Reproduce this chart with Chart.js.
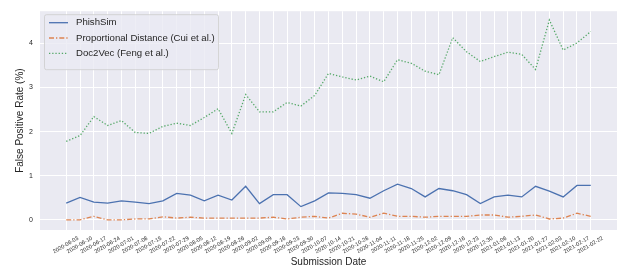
<!DOCTYPE html>
<html>
<head>
    <title>False Positive Rate</title>
    <script src="https://cdn.jsdelivr.net/npm/chart.js"></script>
    <style>
        body { margin: 0; background: #fff; }
    </style>
</head>
<body>
    <canvas id="fprChart" width="623" height="269"></canvas>

    <script>
        const dates = [
            '2020-06-03', '2020-06-10', '2020-06-17', '2020-06-24', '2020-07-01', '2020-07-08',
            '2020-07-15', '2020-07-22', '2020-07-29', '2020-08-05', '2020-08-12', '2020-08-19',
            '2020-08-26', '2020-09-02', '2020-09-09', '2020-09-16', '2020-09-23', '2020-09-30',
            '2020-10-07', '2020-10-14', '2020-10-21', '2020-10-28', '2020-11-04', '2020-11-11',
            '2020-11-18', '2020-11-25', '2020-12-02', '2020-12-09', '2020-12-16', '2020-12-23',
            '2020-12-30', '2021-01-06', '2021-01-13', '2021-01-20', '2021-01-27', '2021-02-03',
            '2021-02-10', '2021-02-17', '2021-02-22'
        ];

        const phishSim = [
            0.38, 0.51, 0.40, 0.38, 0.43, 0.40, 0.37, 0.43, 0.60, 0.56, 0.43, 0.56,
            0.45, 0.76, 0.37, 0.57, 0.57, 0.30, 0.43, 0.61, 0.60, 0.57, 0.49, 0.66,
            0.81, 0.71, 0.52, 0.71, 0.66, 0.57, 0.37, 0.52, 0.56, 0.52, 0.76, 0.65,
            0.52, 0.78, 0.78
        ];

        const propDistance = [
            0.00, 0.00, 0.08, 0.00, 0.00, 0.02, 0.02, 0.07, 0.04, 0.06, 0.04, 0.04,
            0.04, 0.04, 0.04, 0.06, 0.02, 0.06, 0.08, 0.04, 0.15, 0.13, 0.06, 0.15,
            0.08, 0.08, 0.06, 0.08, 0.08, 0.08, 0.11, 0.11, 0.06, 0.08, 0.11, 0.02,
            0.04, 0.15, 0.08
        ];

        const doc2vec = [
            1.78, 1.91, 2.34, 2.14, 2.25, 1.98, 1.96, 2.12, 2.19, 2.14, 2.32, 2.52,
            1.96, 2.84, 2.45, 2.45, 2.66, 2.58, 2.82, 3.32, 3.24, 3.17, 3.26, 3.13,
            3.63, 3.55, 3.37, 3.29, 4.13, 3.81, 3.59, 3.70, 3.80, 3.75, 3.41, 4.53,
            3.85, 4.01, 4.27
        ];

        const yTicks = [0, 1, 2, 3, 4];

        const toPoints = arr => arr.map((v, i) => ({ x: i, y: v }));

        // grey plot area like seaborn darkgrid
        const plotBackground = {
            id: 'plotBackground',
            beforeDraw(chart) {
                const { ctx, chartArea: a } = chart;
                ctx.save();
                ctx.fillStyle = '#EAEAF2';
                ctx.fillRect(a.left, a.top, a.right - a.left, a.bottom - a.top);
                ctx.restore();
            }
        };

        // legend drawn inside the plot, upper left
        const insideLegend = {
            id: 'insideLegend',
            afterDraw(chart) {
                const { ctx, chartArea: a } = chart;
                const x = a.left + 4, y = a.top + 3, w = 174, h = 55;
                ctx.save();
                ctx.fillStyle = 'rgba(234,234,242,0.8)';
                ctx.strokeStyle = '#CCCCCC';
                ctx.lineWidth = 0.8;
                ctx.beginPath();
                ctx.roundRect(x + 0.5, y + 0.5, w, h, 2);
                ctx.fill();
                ctx.stroke();
                ctx.font = '9.6px "Liberation Sans", Arial, sans-serif';
                ctx.textBaseline = 'middle';
                chart.data.datasets.forEach((ds, i) => {
                    const ly = y + 8.5 + i * 15.3;
                    ctx.strokeStyle = ds.borderColor;
                    ctx.lineWidth = ds.borderWidth;
                    ctx.setLineDash(ds.borderDash || []);
                    ctx.beginPath();
                    ctx.moveTo(x + 5, ly);
                    ctx.lineTo(x + 24, ly);
                    ctx.stroke();
                    ctx.setLineDash([]);
                    ctx.fillStyle = '#262626';
                    ctx.fillText(ds.label, x + 32, ly);
                });
                ctx.restore();
            }
        };

        document.addEventListener("DOMContentLoaded", function() {
            new Chart(document.getElementById('fprChart'), {
                type: 'line',
                data: {
                    datasets: [{
                        label: 'PhishSim',
                        data: toPoints(phishSim),
                        borderColor: '#4C72B0',
                        borderWidth: 1.3,
                        pointRadius: 0,
                        fill: false
                    }, {
                        label: 'Proportional Distance (Cui et al.)',
                        data: toPoints(propDistance),
                        borderColor: '#DD8452',
                        borderWidth: 1.3,
                        borderDash: [5, 2, 1.3, 2],
                        pointRadius: 0,
                        fill: false
                    }, {
                        label: 'Doc2Vec (Feng et al.)',
                        data: toPoints(doc2vec),
                        borderColor: '#55A868',
                        borderWidth: 1.3,
                        borderDash: [1.3, 1.9],
                        pointRadius: 0,
                        fill: false
                    }]
                },
                options: {
                    responsive: false,
                    devicePixelRatio: 1,
                    animation: false,
                    layout: { padding: { top: 5, right: 6, left: 0, bottom: 0 } },
                    plugins: {
                        legend: { display: false },
                        tooltip: { enabled: false }
                    },
                    scales: {
                        x: {
                            type: 'linear',
                            min: -1.9,
                            max: dates.length - 1 + 1.9,
                            border: { display: false },
                            grid: { color: '#FFFFFF', lineWidth: 1, drawTicks: false },
                            afterBuildTicks: scale => {
                                scale.ticks = dates.map((d, i) => ({ value: i }));
                            },
                            afterFit: scale => { scale.height = 39; },
                            ticks: {
                                autoSkip: false,
                                minRotation: 30,
                                maxRotation: 30,
                                padding: 5,
                                labelOffset: 12,
                                color: '#262626',
                                font: { family: '"Liberation Sans", Arial, sans-serif', size: 5.6 },
                                callback: v => dates[v]
                            },
                            title: {
                                display: true,
                                text: 'Submission Date',
                                color: '#262626',
                                padding: { top: 0, bottom: 1 },
                                font: { family: '"Liberation Sans", Arial, sans-serif', size: 10 }
                            }
                        },
                        y: {
                            min: -0.23,
                            max: 4.73,
                            border: { display: false },
                            grid: { color: '#FFFFFF', lineWidth: 1, drawTicks: false },
                            afterBuildTicks: scale => {
                                scale.ticks = yTicks.map(v => ({ value: v }));
                            },
                            afterFit: scale => { scale.width = 40; },
                            ticks: {
                                padding: 7,
                                color: '#262626',
                                font: { family: '"Liberation Sans", Arial, sans-serif', size: 7 }
                            },
                            title: {
                                display: true,
                                text: 'False Positive Rate (%)',
                                color: '#262626',
                                padding: { top: 14.5, bottom: 0 },
                                font: { family: '"Liberation Sans", Arial, sans-serif', size: 10 }
                            }
                        }
                    }
                },
                plugins: [plotBackground, insideLegend]
            });
        });
    </script>
</body>
</html>
